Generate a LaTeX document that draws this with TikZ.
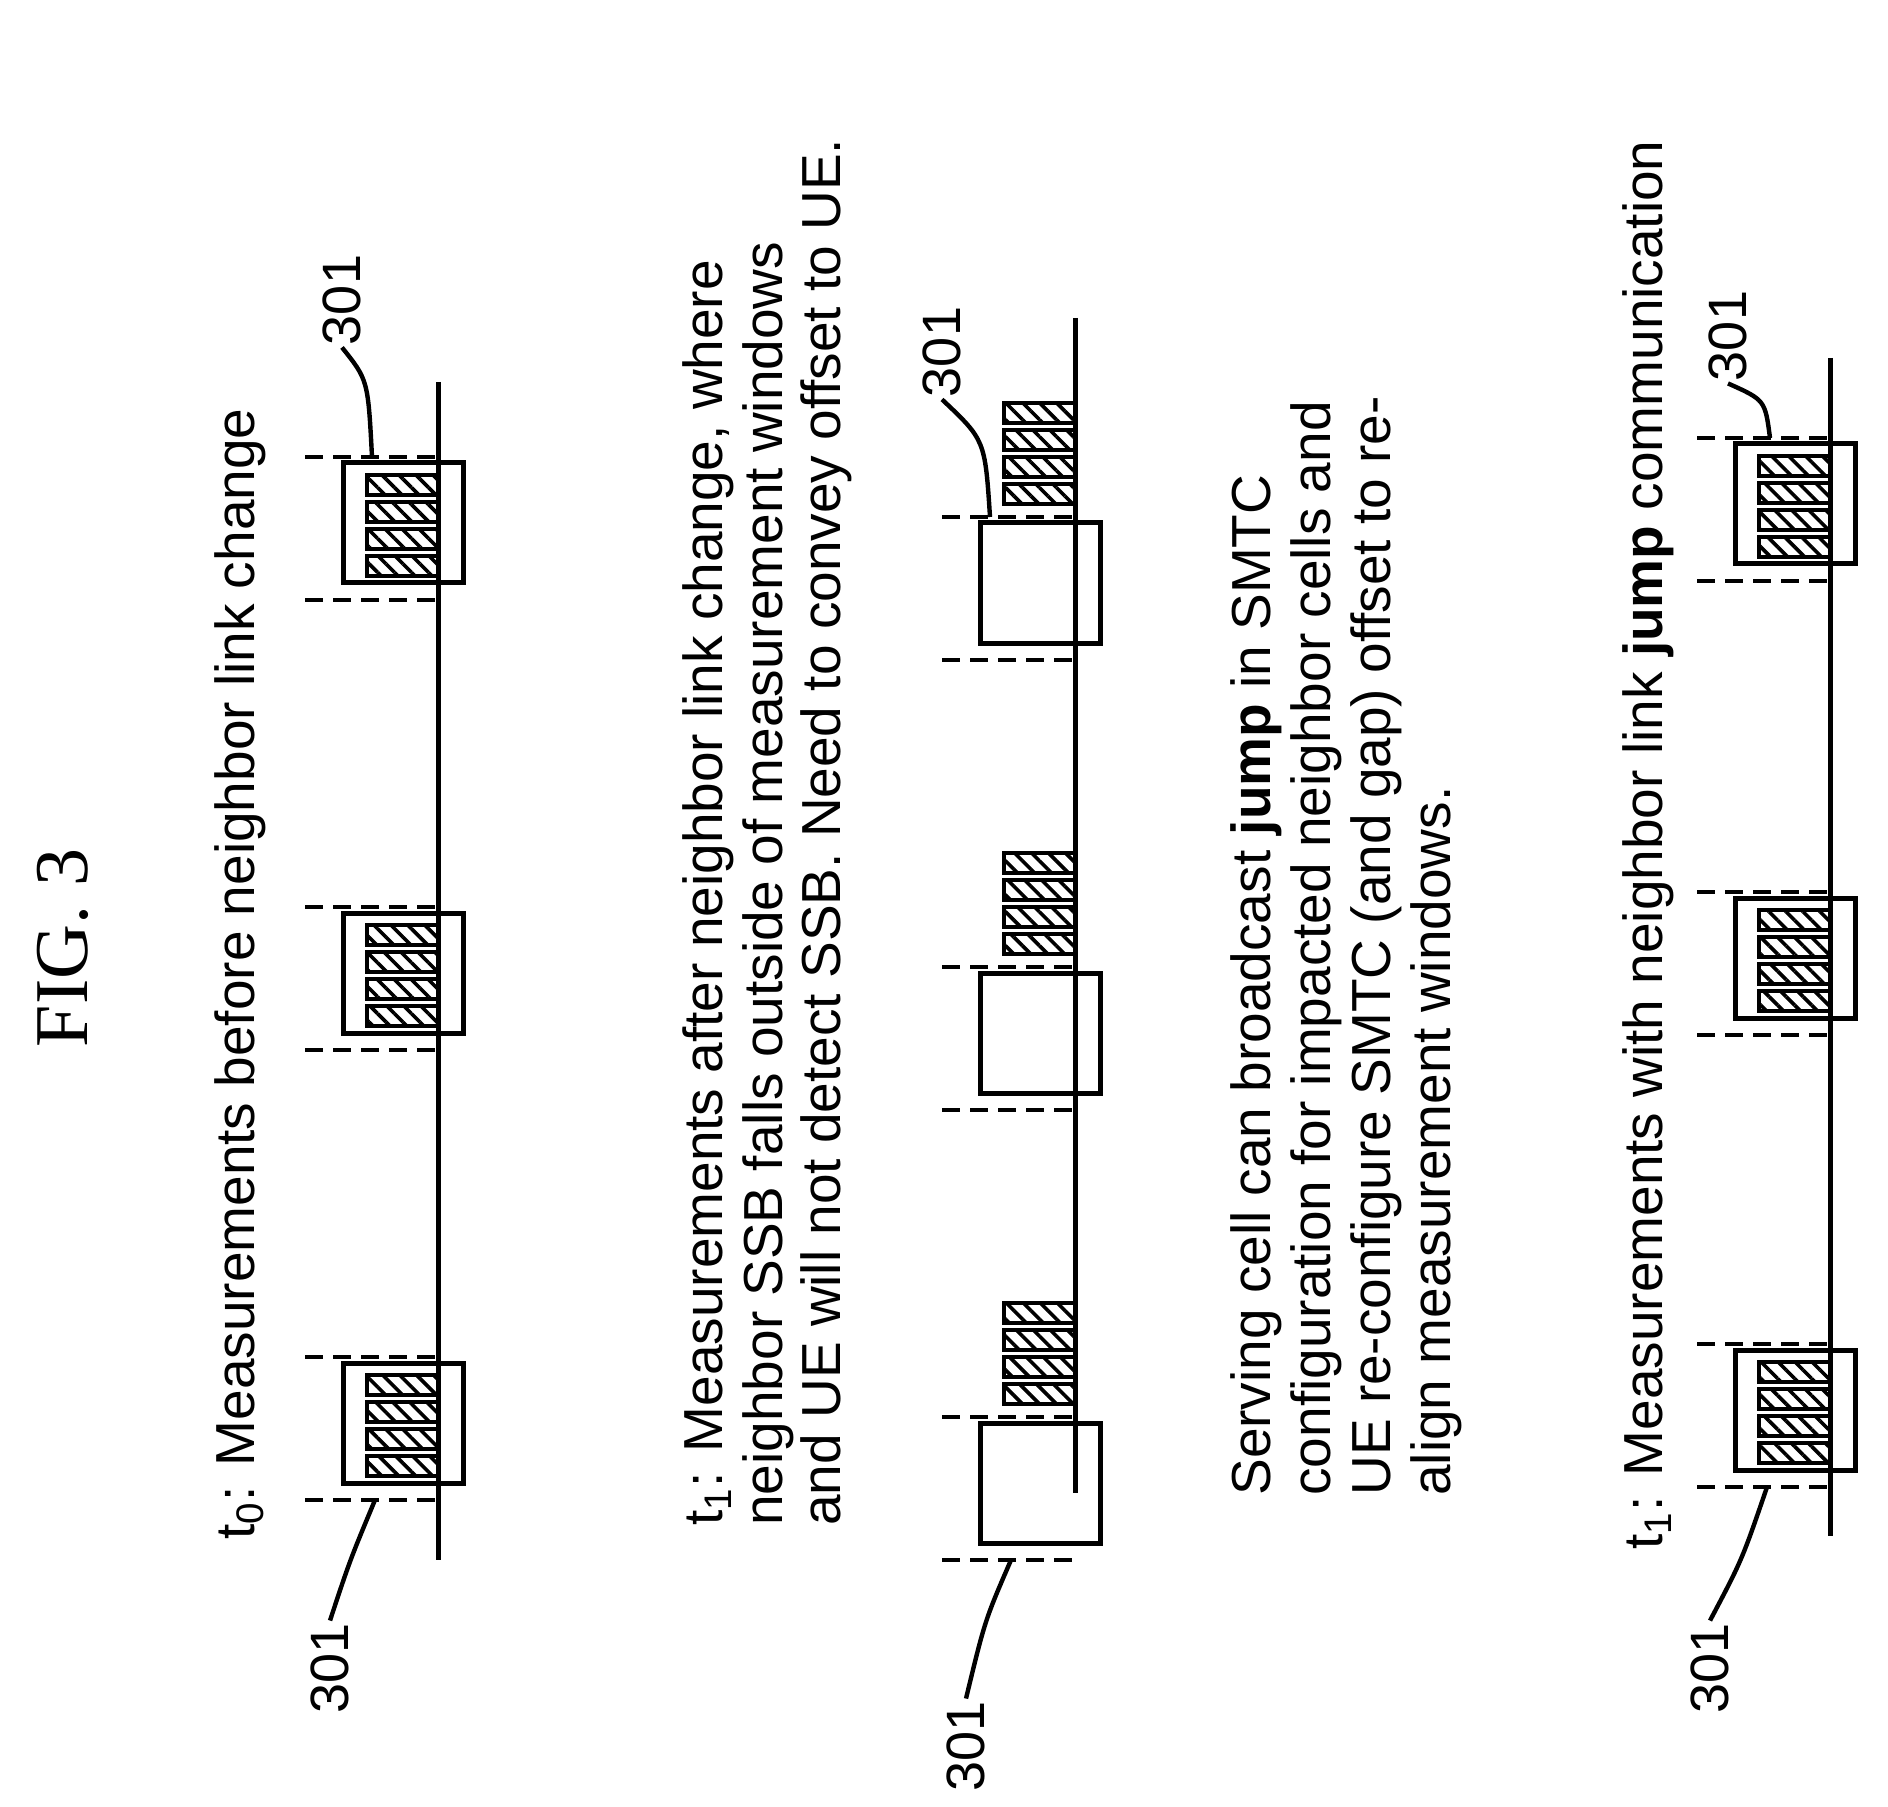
\documentclass[tikz,border=0pt]{standalone}
\usepackage{fontspec}
\setmainfont{Liberation Sans}
\newfontfamily\figfont{Liberation Serif}
\usetikzlibrary{patterns.meta}

\tikzset{
  axisline/.style={line width=2.5pt},
  winbox/.style={line width=2.5pt},
  ssbbar/.style={line width=2.2pt,pattern={Lines[angle=-45,distance=6pt,line width=1.8pt]}},
  gate/.style={line width=1.6pt,dash pattern=on 9pt off 5pt},
  leader/.style={line width=2.2pt},
  txt/.style={rotate=90,anchor=west,inner sep=0pt,font=\fontsize{27.5}{32}\selectfont},
  ref/.style={rotate=90,inner sep=1pt,font=\fontsize{27}{32}\selectfont}
}
% window box and gating dashes: axis x, box top
\newcommand\mwin[2]{%
  \draw[winbox] (#1-95,#2) rectangle (#1+25,#2+120);
  \draw[gate] (#1-133,#2-6) -- (#1,#2-6);
  \draw[gate] (#1-133,#2+137) -- (#1,#2+137);}
% four hatched SSB bars: axis x, top of first bar
\newcommand\ssb[2]{%
  \foreach \k in {0,1,2,3}
    \draw[ssbbar] (#1-71,#2+27*\k) rectangle (#1,#2+27*\k+20);}

\begin{document}
\begin{tikzpicture}[x=0.5pt,y=-0.5pt]
  \useasboundingbox (0,0) rectangle (1888,1807);
  \node[rotate=90,font=\figfont\fontsize{38}{40}\selectfont] (fig) at (63,948) {FIG. 3};

  % t0
  \node[txt] (t0) at (240,1540) {t\textsubscript{0}: Measurements before neighbor link change};
  \foreach \t in {1363,913,463} {\ssb{438}{\t+12}\mwin{438}{\t}}
  \draw[axisline] (438,382) -- (438,1560);
  \node[ref] (ra) at (330,1668) {301};
  \node[ref] (rb) at (342,300) {301};
  \coordinate (ca) at (375,1500);
  \coordinate (cb) at (372,457);
  \draw[leader] (ca) .. controls (350,1560) .. (ra.east);
  \draw[leader] (cb) .. controls (368,380) .. (rb.west);

  % t1 without jump
  \node[txt] (l1) at (708,1526) {t\textsubscript{1}: Measurements after neighbor link change, where};
  \node[txt] (l2) at (768,1526) {neighbor SSB falls outside of measurement windows};
  \node[txt] (l3) at (826,1526) {and UE will not detect SSB. Need to convey offset to UE.};
  \foreach \t in {1423,973,523} {\ssb{1075}{\t-120}\mwin{1075}{\t}}
  \draw[axisline] (1075,318) -- (1075,1493);
  \node[ref] (rc) at (966,1746) {301};
  \node[ref] (rd) at (942,352) {301};
  \coordinate (cc) at (1011,1560);
  \coordinate (cd) at (990,517);
  \draw[leader] (cc) .. controls (985,1620) .. (rc.east);
  \draw[leader] (cd) .. controls (985,440) .. (rd.west);

  % jump signalling
  \node[txt] (j1) at (1256,1496) {Serving cell can broadcast \textbf{jump} in SMTC};
  \node[txt] (j2) at (1316,1496) {configuration for impacted neighbor cells and};
  \node[txt] (j3) at (1376,1496) {UE re-configure SMTC (and gap) offset to re-};
  \node[txt] (j4) at (1436,1496) {align measurement windows.};

  % t1 with jump
  \node[txt] (t2) at (1648,1550) {t\textsubscript{1}: Measurements with neighbor link \textbf{jump} communication};
  \foreach \t in {1350,898,444} {\ssb{1830}{\t+12}\mwin{1830}{\t}}
  \draw[axisline] (1830,358) -- (1830,1536);
  \node[ref] (re) at (1710,1668) {301};
  \node[ref] (rf) at (1728,336) {301};
  \coordinate (ce) at (1767,1487);
  \coordinate (cf) at (1770,438);
  \draw[leader] (ce) .. controls (1742,1560) .. (re.east);
  \draw[leader] (cf) .. controls (1765,400) .. (rf.west);
\end{tikzpicture}
\end{document}
